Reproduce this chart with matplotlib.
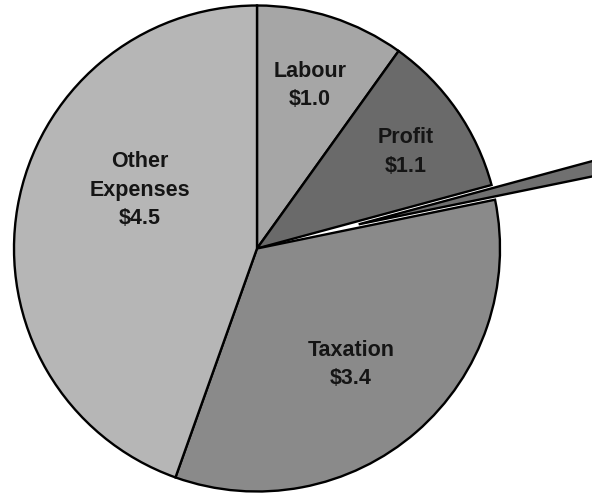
import matplotlib
matplotlib.use('Agg')
import matplotlib.pyplot as plt

# cost breakdown, in dollars
names = ['Labour', 'Profit', '', 'Taxation', 'Other\nExpenses']
values = [1.0, 1.1, 0.1, 3.4, 4.5]
colours = ['#a6a6a6', '#6a6a6a', '#707070', '#8a8a8a', '#b6b6b6']
explode = [0, 0, 0.43, 0, 0]

# where each caption sits (data units, pie radius = 1)
label_pos = [(0.218, 0.672), (0.613, 0.397), None, (0.387, -0.479), (-0.481, 0.240)]

plt.rcParams['font.family'] = ['Liberation Sans', 'DejaVu Sans']

fig = plt.figure(figsize=(5.92, 4.94), dpi=100)
ax = fig.add_axes([0, 0, 1, 1])

wedges, _ = ax.pie(values, colors=colours, explode=explode, startangle=90,
                   counterclock=False, radius=1.0,
                   wedgeprops=dict(edgecolor='black', linewidth=1.7))
wedges[2].set_zorder(5)

for name, val, pos in zip(names, values, label_pos):
    if pos is None:
        continue
    ax.text(pos[0], pos[1], f'{name}\n${val:.1f}', ha='center', va='center',
            fontsize=15.5, fontweight='bold', color='#151515', linespacing=1.45)

ax.set_xlim(-257 / 243, (592 - 257) / 243)
ax.set_ylim(-(494 - 248.5) / 243, 248.5 / 243)
ax.set_aspect('equal')
ax.axis('off')

fig.savefig('out.png', dpi=100, facecolor='white')
